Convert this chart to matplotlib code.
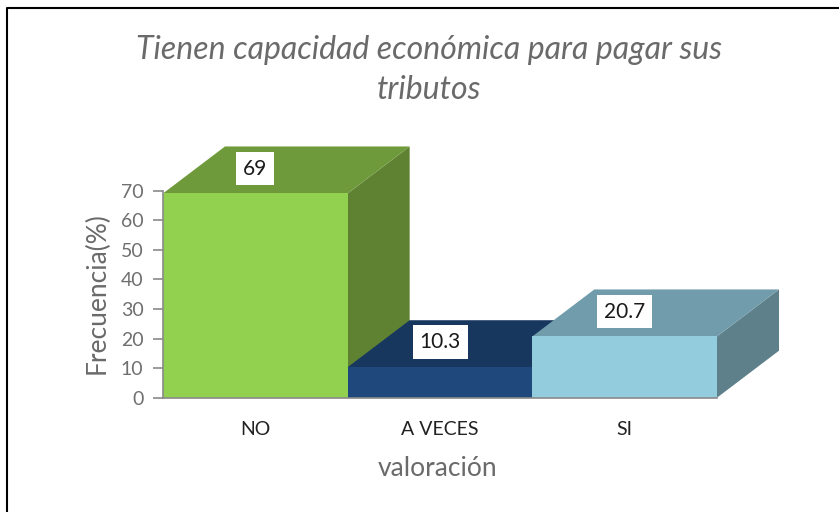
import matplotlib
matplotlib.use('Agg')
import matplotlib.pyplot as plt
from matplotlib.patches import Polygon

categorias = ['NO', 'A VECES', 'SI']
valores = [69, 10.3, 20.7]
etiquetas = ['69', '10.3', '20.7']
ticks_y = [0, 10, 20, 30, 40, 50, 60, 70]
frente = ['#92D050', '#1F497D', '#93CDDD']
techo = ['#6F9A3C', '#17375E', '#709CAB']
lado = ['#5F8232', '#17375E', '#5E808B']

W, H = 839, 512
plt.rcParams['font.family'] = ['Lato', 'DejaVu Sans']

fig = plt.figure(figsize=(W / 100, H / 100), dpi=100)
fig.patch.set_facecolor('white')

# marco de la imagen: solo arriba e izquierda
fig.add_artist(plt.Line2D([7 / W, 7 / W, 1], [0, 1 - 8 / H, 1 - 8 / H], c='black', lw=1.5))

x0, x1 = 163, 717
y0, y70 = 397.7, 190.5
ax = fig.add_axes([x0 / W, 1 - y0 / H, (x1 - x0) / W, (y0 - y70) / H])
ax.set_xlim(0, 3)
ax.set_ylim(0, 70)
ax.patch.set_alpha(0)

# profundidad de las barras en unidades de datos
dx = 62 / ((x1 - x0) / 3)
dy = 47 / ((y0 - y70) / 70)

for i, v in enumerate(valores):
    ax.add_patch(Polygon([(i + 1, 0), (i + 1 + dx, dy), (i + 1 + dx, v + dy), (i + 1, v)], fc=lado[i], ec='none', clip_on=False))
    ax.add_patch(Polygon([(i, v), (i + dx, v + dy), (i + 1 + dx, v + dy), (i + 1, v)], fc=techo[i], ec='none', clip_on=False))
    ax.add_patch(Polygon([(i, 0), (i, v), (i + 1, v), (i + 1, 0)], fc=frente[i], ec='none', clip_on=False))
    ax.text(i + 0.5, v + dy * 0.53, etiquetas[i], fontsize=15, color='#1a1a1a', ha='center', va='center',
            bbox=dict(fc='white', ec='none', pad=5), clip_on=False, zorder=5)

for s in ['top', 'right']:
    ax.spines[s].set_visible(False)
for s in ['left', 'bottom']:
    ax.spines[s].set_color('#8a8a8a')
    ax.spines[s].set_linewidth(1.2)

ax.set_yticks(ticks_y)
ax.tick_params(axis='y', length=7, width=1.2, color='#8a8a8a', labelcolor='#6f6f6f', labelsize=14, pad=7)
ax.set_xticks([0.5, 1.5, 2.5], categorias)
ax.tick_params(axis='x', length=0, labelsize=14, labelcolor='#222222', pad=17)

fig.text(97 / W, 1 - 293 / H, 'Frecuencia(%)', rotation=90, fontsize=19, color='#6a6a6a', ha='center', va='center')
fig.text(438 / W, 1 - 469 / H, 'valoración', fontsize=19, color='#6a6a6a', ha='center', va='center')
fig.text(429 / W, 1 - 70 / H, 'Tienen capacidad económica para pagar sus\ntributos', fontsize=23, style='italic',
         color='#6a6a6a', ha='center', va='center', linespacing=1.4)

fig.savefig('out.png', dpi=100)
